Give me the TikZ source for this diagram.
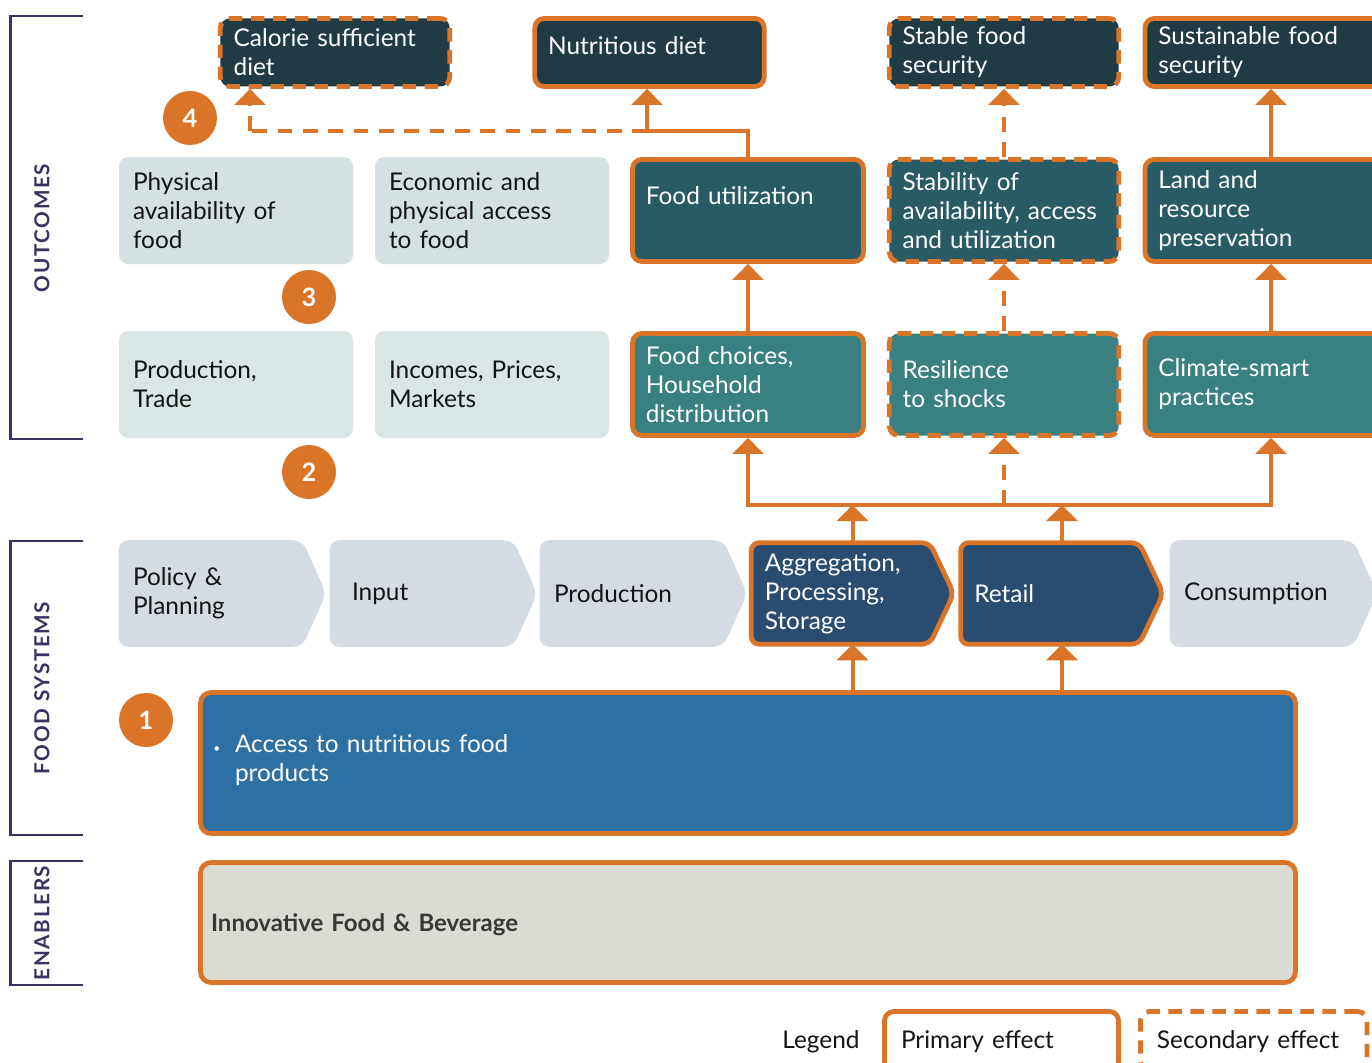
\documentclass[tikz,border=0pt]{standalone}
\usepackage{fontspec}
\setmainfont{Lato}
\newfontfamily\labfont[LetterSpace=8]{Lato}
\usetikzlibrary{arrows.meta,backgrounds}
\definecolor{org}{HTML}{D97428}
\definecolor{topc}{HTML}{1F3C45}
\definecolor{midc}{HTML}{285B66}
\definecolor{lowc}{HTML}{3A8080}
\definecolor{chevd}{HTML}{284D70}
\definecolor{accc}{HTML}{2E70A4}
\definecolor{enab}{HTML}{DADBD2}
\definecolor{liteA}{HTML}{D5E0E3}
\definecolor{liteB}{HTML}{D9E6E5}
\definecolor{chevl}{HTML}{D5DBE3}
\definecolor{brk}{HTML}{3C3163}
\definecolor{txt}{HTML}{141414}
\newcommand\chevshape[2]{\path[#2] (#1.north west) -- ([xshift=-18pt]#1.north east) -- (#1.east) -- ([xshift=-18pt]#1.south east) -- (#1.south west) -- cycle;}
\begin{document}
\begin{tikzpicture}[x=0.75pt,y=-0.75pt,
  mf/.style={font=\fontsize{18.3}{21.75}\selectfont},
  box/.style={mf, rounded corners=7pt, inner xsep=10pt, inner ysep=0pt, align=left},
  prim/.style={draw=org, line width=3.6pt},
  sec/.style={draw=org, line width=3.6pt, dash pattern=on 10pt off 6.5pt},
  topbox/.style={box, fill=topc, text=white, minimum height=51pt},
  midbox/.style={box, fill=midc, text=white, minimum height=76.5pt},
  lowbox/.style={box, fill=lowc, text=white, minimum height=76.5pt},
  litebox/.style={box, text=txt, inner xsep=10.5pt, minimum height=80.25pt, minimum width=175.5pt, text width=154.5pt},
  wA/.style={minimum width=172pt, text width=152pt},
  wB/.style={minimum width=173.25pt, text width=153.25pt},
  wC/.style={minimum width=189pt, text width=169pt},
  chevtxt/.style={mf, inner xsep=10.5pt, inner ysep=0pt, align=left, minimum height=79.5pt, minimum width=155.25pt, text width=134.25pt, text=txt},
  chevdtxt/.style={mf, inner xsep=10pt, inner ysep=0pt, align=left, minimum height=75.75pt, minimum width=151.5pt, text width=131.5pt, text=white},
  cline/.style={draw=org, line width=3pt, line cap=rect},
  arr/.style={draw=org, line width=3pt, -{Triangle[width=23pt,length=12pt]}},
  darr/.style={arr, dash pattern=on 11pt off 8pt},
  dline/.style={draw=org, line width=3pt, dash pattern=on 11pt off 8pt},
  num/.style={circle, fill=org, text=white, minimum size=40.5pt, inner sep=0pt, font=\fontsize{19}{19}\selectfont\bfseries},
  brl/.style={draw=brk, line width=2.2pt},
  brlab/.style={rotate=90, text=brk, font=\labfont\bfseries\fontsize{15.5}{15.5}\selectfont, inner sep=0pt}
]
\useasboundingbox (0,0) rectangle (1372,1063);
\clip (0,0) rectangle (1372,1063);

% brackets
\draw[brl] (83,16) -- (10.5,16) -- (10.5,439) -- (83,439);
\draw[brl] (83,541) -- (10.5,541) -- (10.5,835) -- (83,835);
\draw[brl] (83,861) -- (10.5,861) -- (10.5,985) -- (83,985);
\node[brlab] (lout) at (42,228) {OUTCOMES};
\node[brlab] (lfs) at (42,688) {FOOD SYSTEMS};
\node[brlab] (len) at (42,923) {ENABLERS};

% top row
\node[topbox, sec, wA] (cal) at (335,52.5) {Calorie sufficient\\diet};
\node[topbox, prim, wA] (nut) at (649.5,52.5) {Nutritious diet\\[-12pt]\mbox{}};
\node[topbox, sec, wA] (stab) at (1004,52.5) {Stable food\\security};
\node[topbox, prim, wC] (sust) at (1271,52.5) {Sustainable food\\security};

% second row
\node[litebox, fill=liteA] (phys) at (236,210.5) {Physical\\availability of\\food};
\node[litebox, fill=liteA] (econ) at (492,210.5) {Economic and\\physical access\\to food};
\node[midbox, prim, wB] (futil) at (748,210.5) {Food utilization\\\mbox{}};
\node[midbox, sec, wA] (sta) at (1004,210.5) {Stability of\\availability, access\\and utilization};
\node[midbox, prim, wC] (land) at (1271,210.5) {Land and\\resource\\preservation};

% third row
\node[litebox, fill=liteB] (prod) at (236,384.5) {Production,\\Trade};
\node[litebox, fill=liteB] (inc) at (492,384.5) {Incomes, Prices,\\Markets};
\node[lowbox, prim, wB] (fch) at (748,384.5) {Food choices,\\Household\\distribution};
\node[lowbox, sec, wA] (res) at (1004,384.5) {Resilience\\to shocks};
\node[lowbox, prim, wC] (clim) at (1271,384.5) {Climate-smart\\practices};

% chevrons
\node[chevtxt] (pol) at (222.5,593.5) {Policy \&\\Planning};
\node[chevtxt] (inp) at (433.5,593.5) {\hspace*{6pt}Input};
\node[chevtxt] (pro) at (643.5,593.5) {Production};
\node[chevdtxt] (agg) at (852.5,593.5) {Aggregation,\\Processing,\\Storage};
\node[chevdtxt] (ret) at (1062,593.5) {Retail};
\node[chevtxt] (con) at (1273.5,593.5) {Consumption};
\begin{scope}[on background layer]
  \fill[white] (0,0) rectangle (1372,1063);
  \chevshape{pol}{fill=chevl, rounded corners=7pt}
  \chevshape{inp}{fill=chevl, rounded corners=7pt}
  \chevshape{pro}{fill=chevl, rounded corners=7pt}
  \chevshape{con}{fill=chevl, rounded corners=7pt}
  \chevshape{agg}{fill=chevd, draw=org, line width=3.6pt, rounded corners=6pt}
  \chevshape{ret}{fill=chevd, draw=org, line width=3.6pt, rounded corners=6pt}
\end{scope}

% access and enablers
\node[mf, prim, fill=accc, text=white, rounded corners=8pt, align=left, inner ysep=0pt,
  minimum width=821.25pt, minimum height=105.75pt, inner xsep=25.9pt, text width=769.45pt]
  (acc) at (748,763) {\llap{\fontsize{9}{9}\selectfont\textbullet\hspace{11pt}}Access to nutritious food\\products\\[-14pt]\mbox{}};
\node[mf, prim, fill=enab, text={black!78}, rounded corners=8pt, align=left, inner ysep=0pt, text depth=0pt,
  minimum width=821.25pt, minimum height=90pt, inner xsep=7.9pt, text width=805.45pt, font=\fontsize{18}{21}\selectfont\bfseries]
  (enb) at (748,922.5) {Innovative Food \& Beverage};

% number circles
\node[num] (n4) at (190,118) {4};
\node[num] (n3) at (309,297) {3};
\node[num] (n2) at (309,472) {2};
\node[num] (n1) at (146,720) {1};

% connectors top
\coordinate (jn) at (647,131);
\coordinate (jc) at (250,131);
\draw[cline] (futil.north) |- (jn);
\draw[arr] (jn) -- (jn |- nut.south);
\draw[dline] (jn) -- (jc);
\draw[darr] (jc) -- (jc |- cal.south);
\draw[darr] (sta.north) -- (stab.south);
\draw[arr] (land.north) -- (sust.south);

% connectors middle
\draw[arr] (fch.north) -- (futil.south);
\draw[darr] (res.north) -- (sta.south);
\draw[arr] (clim.north) -- (land.south);

% bus
\coordinate (bus) at (0,505);
\draw[cline] (fch.south |- bus) -- (clim.south |- bus);
\draw[arr] (fch.south |- bus) -- (fch.south);
\draw[darr] (res.south |- bus) -- (res.south);
\draw[arr] (clim.south |- bus) -- (clim.south);
\draw[arr] (agg.north) -- (agg.north |- bus);
\draw[arr] (ret.north) -- (ret.north |- bus);
\draw[arr] (agg.south |- acc.north) -- (agg.south);
\draw[arr] (ret.south |- acc.north) -- (ret.south);

% legend
\node[mf, text=txt, inner sep=0pt] (leg) at (821,1042) {Legend};
\node[mf, prim, fill=white, text=txt, rounded corners=7pt, align=left, inner ysep=0pt, inner xsep=12.4pt,
  minimum width=175.5pt, minimum height=45pt, text width=150.7pt] (lp) at (1001.5,1041.5) {Primary effect};
\node[mf, sec, fill=white, text=txt, rounded corners=7pt, align=left, inner ysep=0pt, inner xsep=12.4pt,
  minimum width=170pt, minimum height=45pt, text width=145.2pt] (ls) at (1253.75,1041.5) {Secondary effect};
\end{tikzpicture}
\end{document}
